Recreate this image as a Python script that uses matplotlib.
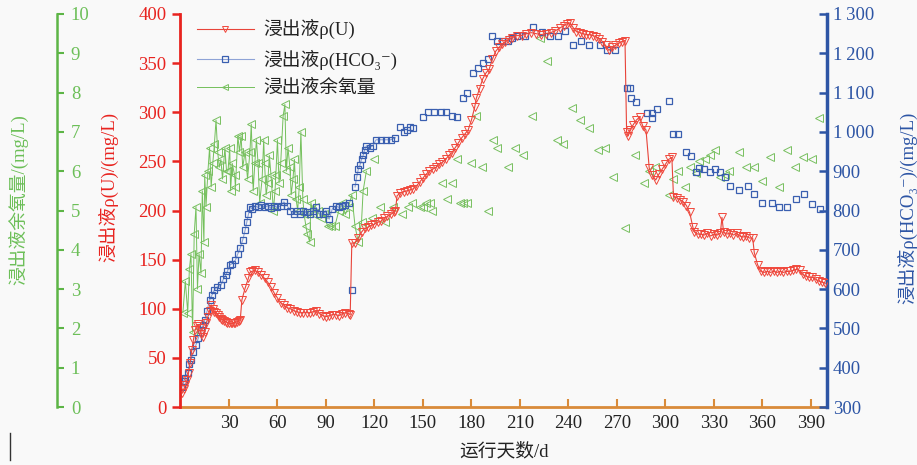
import numpy as np
import matplotlib
matplotlib.use("Agg")
import matplotlib.pyplot as plt
from matplotlib.lines import Line2D
from matplotlib.ticker import FuncFormatter

plt.rcParams['font.family'] = ['Liberation Serif', 'Noto Sans CJK SC', 'DejaVu Sans']

# ---- data ----
# U in leachate, mg/L
u_days = [1, 2, 3, 4, 5, 6, 7, 8, 9, 10, 11, 12, 13, 14, 15, 16, 17, 18, 19, 20,
          21, 22, 23, 24, 25, 26, 27, 28, 29, 30, 31, 32, 33, 34, 35, 36, 37, 38, 40, 42,
          43, 44, 46, 48, 50, 52, 54, 56, 58, 60, 62, 64, 66, 68, 70, 72, 74, 76, 78, 80,
          82, 84, 86, 88, 90, 92, 94, 96, 98, 100, 102, 104, 105, 106, 108, 110, 112, 114, 116, 118,
          120, 122, 124, 126, 128, 130, 132, 133, 134, 136, 138, 140, 142, 144, 146, 148, 150, 152, 154, 156,
          158, 160, 162, 164, 166, 168, 170, 172, 174, 176, 178, 180, 182, 183, 185, 187, 189, 191, 193, 195,
          197, 199, 201, 203, 205, 208, 211, 214, 217, 220, 223, 226, 229, 232, 235, 237, 239, 241, 243, 245,
          247, 249, 251, 253, 255, 257, 259, 261, 263, 265, 267, 269, 271, 273, 275, 276, 277, 278, 280, 282,
          284, 286, 288, 290, 292, 294, 296, 298, 300, 302, 304, 305, 307, 309, 311, 313, 315, 317, 318, 320,
          322, 324, 326, 328, 330, 332, 334, 335, 336, 338, 340, 342, 344, 346, 348, 350, 352, 354, 355, 357,
          359, 361, 363, 365, 367, 369, 371, 373, 375, 377, 379, 381, 383, 385, 387, 389, 391, 393, 395, 397,
          399]
u_vals = [14, 18, 22, 27, 35, 45, 58, 68, 78, 82, 84, 80, 74, 71, 76, 85, 92, 98, 104, 100,
          97, 96, 94, 92, 90, 89, 88, 87, 86, 85, 85, 85, 86, 86, 87, 88, 89, 109, 121, 131,
          137, 138, 139, 137, 134, 131, 127, 122, 116, 111, 106, 104, 101, 100, 98, 97, 96, 96, 96, 96,
          97, 98, 95, 93, 92, 93, 94, 94, 93, 95, 96, 95, 94, 167, 167, 172, 178, 182, 183, 185,
          186, 188, 189, 192, 194, 196, 198, 200, 215, 218, 219, 220, 221, 222, 225, 229, 233, 237, 240, 242,
          244, 247, 249, 252, 256, 259, 264, 269, 274, 278, 282, 292, 305, 314, 324, 334, 340, 344, 354, 362,
          366, 369, 372, 374, 376, 378, 378, 380, 381, 380, 379, 380, 381, 383, 386, 388, 390, 391, 386, 382,
          381, 380, 379, 379, 378, 377, 375, 372, 368, 363, 366, 368, 370, 372, 373, 280, 276, 282, 287, 292,
          295, 286, 282, 243, 236, 231, 237, 242, 247, 252, 254, 214, 213, 211, 209, 205, 198, 183, 178, 176,
          176, 175, 177, 174, 176, 175, 177, 193, 178, 176, 177, 175, 177, 174, 173, 174, 172, 172, 157, 145,
          138, 137, 138, 137, 138, 137, 138, 137, 138, 138, 139, 140, 139, 135, 133, 132, 132, 130, 128, 127,
          126]

# HCO3- in leachate, mg/L
hco3_days_a = [1, 2, 3, 4.6, 5.5, 6.5, 8, 9.6, 11, 12.7, 14, 15, 16.5, 18, 19.5, 21, 22.5, 25, 26.5, 28,
               29, 30.5, 32, 34, 35.5, 37, 38.5, 40, 41, 42, 43, 44, 46, 48, 50, 52, 54, 56, 58, 60,
               62, 64, 66, 68, 70, 72, 74, 76, 78, 80, 82, 84, 86, 88, 90, 92, 94, 96, 98, 100,
               102, 104]
hco3_vals_a = [351, 365, 375, 387, 410, 420, 440, 458, 475, 496, 508, 521, 545, 572, 585, 598, 605, 610, 625, 636,
               645, 661, 665, 674, 690, 705, 725, 750, 770, 790, 809, 805, 812, 808, 815, 808, 812, 806, 812, 808,
               812, 822, 812, 800, 790, 800, 790, 800, 795, 790, 800, 808, 790, 790, 800, 778, 805, 812, 808, 812,
               815, 820]
hco3_days_drop = [106]
hco3_vals_drop = [598]
hco3_days_b = [108, 109, 110, 111, 112, 113, 114, 115, 117, 119, 121, 124, 127, 130, 133]
hco3_vals_b = [860, 885, 905, 915, 930, 940, 955, 965, 960, 965, 980, 980, 980, 980, 985]
hco3_days_c = [136, 138.5, 140, 142, 144, 150, 153, 157, 161, 164, 168, 171, 175, 177, 181, 184, 187, 190, 193, 196,
               199, 202.5, 205, 208, 213, 218, 223.5, 228.5, 233.5, 238, 243, 248, 253, 259.5, 264, 269, 276, 278, 279, 282,
               288.5, 291.5, 292, 294.5, 302, 304.5, 307.5, 313, 316, 319, 321, 324, 327.5, 330.5, 333.5, 337, 340, 345.5, 351, 355,
               360, 366, 370, 375.5, 381, 385.5, 390.5, 395.5]
hco3_vals_c = [1013, 1000, 1005, 1013, 1010, 1038, 1051, 1050, 1051, 1051, 1040, 1038, 1086, 1099, 1150, 1163, 1175, 1186, 1244, 1231,
               1231, 1231, 1240, 1244, 1244, 1267, 1254, 1244, 1244, 1257, 1221, 1231, 1221, 1221, 1208, 1208, 1112, 1112, 1086, 1076,
               1048, 1048, 1036, 1058, 1079, 995, 995, 949, 939, 898, 908, 906, 898, 906, 898, 885, 862, 852, 862, 842,
               819, 819, 809, 809, 829, 842, 817, 804]

# residual oxygen in leachate, mg/L
o2_days_a = [1.5, 3, 4.5, 5.5, 6.5, 7.5, 8.5, 9.6, 10.5, 11.5, 12.7, 13.5, 14.5, 15, 15.8, 17, 18, 19, 20, 21,
             22, 23, 24, 25, 26, 27.5, 28.5, 29.4, 30.5, 31, 32, 33.5, 34, 35.5, 36.5, 37.5, 38.5, 40, 41.5, 43,
             43.8, 45, 46, 47, 48, 49, 50.5, 51.5, 52, 53, 54, 55, 56, 57.5, 58.5, 59, 60, 61, 62, 63.5,
             64.6, 65.5, 66.5, 67.7, 68.5, 69.6, 70.5, 71.5, 72.5, 73.5, 74.5, 75.7, 76.5, 77.6, 78.5, 80, 80.7, 82, 83, 85,
             87, 89, 91, 93, 95.5, 98, 100, 102, 104, 106, 108, 110, 112, 113, 115]
o2_vals_a = [2.4, 3.2, 2.4, 3.5, 3.9, 1.9, 4.4, 5.1, 3.0, 3.9, 3.4, 5.5, 4.2, 5.9, 5.1, 6.0, 6.6, 5.6, 6.2, 6.7,
             7.3, 6.5, 6.1, 6.3, 5.8, 6.6, 6.0, 6.0, 6.6, 5.5, 6.2, 5.9, 5.6, 6.9, 6.5, 6.9, 6.1, 6.5, 5.8, 6.5,
             7.2, 5.5, 6.2, 6.8, 6.2, 5.2, 5.8, 6.8, 6.2, 5.4, 5.7, 6.4, 5.9, 5.0, 5.5, 5.9, 6.8, 5.7, 6.2, 7.4,
             7.7, 6.0, 6.6, 6.1, 5.4, 5.8, 6.3, 5.3, 5.0, 5.6, 7.0, 5.3, 4.9, 4.6, 4.4, 4.2, 5.2, 4.9, 5.1, 5.0,
             4.8, 4.9, 4.6, 4.6, 4.6, 5.0, 5.2, 4.9, 5.1, 5.4, 4.6, 4.2, 4.7, 5.5, 6.0]
o2_days_b = [118.5, 120, 123.5, 126.5, 131.5, 137, 140.7, 143, 148, 150, 152, 154.5, 155.5, 162, 165, 168, 171, 173, 175, 177,
             180, 183, 186.5, 190, 193.5, 196, 202.5, 207, 212, 217.5, 222.5, 227, 233, 236.5, 242, 247, 253, 258, 262.5, 267.5,
             275, 281, 287, 290, 293.5, 302.5, 304.5, 307.5, 312, 315, 319, 321, 324.5, 327.5, 330.5, 333.5, 337, 339.5, 345.5, 350,
             355, 360, 365, 370, 375, 380, 385, 390.5, 395]
o2_vals_b = [4.8, 6.3, 5.1, 4.7, 5.1, 4.9, 5.1, 5.2, 5.1, 5.1, 5.2, 5.2, 5.0, 5.7, 5.3, 5.7, 6.3, 5.2, 5.2, 5.2,
             6.2, 7.4, 6.1, 5.0, 6.8, 6.6, 6.1, 6.6, 6.4, 7.4, 9.4, 8.8, 6.8, 6.7, 7.6, 7.3, 7.1, 6.55, 6.6, 5.85,
             4.55, 6.4, 5.7, 6.0, 6.1, 5.4, 5.8, 6.0, 5.6, 6.1, 5.95, 6.25, 6.3, 6.4, 6.55, 5.85, 5.9, 6.0, 6.5, 6.1,
             6.1, 5.75, 6.35, 5.6, 6.55, 6.1, 6.35, 6.3, 7.35]

x_ticks = [30, 60, 90, 120, 150, 180, 210, 240, 270, 300, 330, 360, 390]

RED = '#e8231f'
BLUE = '#2d55a5'
GREEN = '#5db546'
ORANGE = '#d98b3a'
FS = 13.5

fig = plt.figure(figsize=(9.17, 4.65), dpi=100, facecolor='#f9f9f9')
host = fig.add_axes([0.1968, 0.1247, 0.7051, 0.8452])
host.set_facecolor('#f9f9f9')
ax_b = host.twinx()
ax_r = host.twinx()

# green axis (oxygen) on host, spine pushed out to the left, labels on its right side
host.plot(o2_days_a, o2_vals_a, '-', color='#74c05c', lw=0.7, marker='<', ms=5.5,
          mfc='none', mec='#78c060', mew=0.7, label='浸出液余氧量')
host.plot(o2_days_b, o2_vals_b, 'none', marker='<', ms=5.5, mfc='none', mec='#78c060', mew=0.7)
host.set_ylim(0, 10)
host.set_yticks(range(0, 11))
host.yaxis.tick_right()
host.spines['right'].set_position(('axes', -0.191))
host.spines['right'].set_color(GREEN)
host.spines['right'].set_linewidth(1.8)
host.spines['left'].set_visible(False)
host.spines['top'].set_visible(False)
host.tick_params(axis='y', direction='out', length=5, width=1.5, colors=GREEN,
                 labelsize=FS, labelcolor='#6cbf58', pad=5)
host.set_ylabel('浸出液余氧量/(mg/L)', color='#6cbf58', fontsize=FS)
host.yaxis.set_label_coords(-0.236, 0.527)

# x axis
host.set_xlim(0, 400)
host.set_xticks(x_ticks)
host.spines['bottom'].set_color(ORANGE)
host.spines['bottom'].set_linewidth(2)
host.tick_params(axis='x', direction='in', length=6, width=1.5, color=ORANGE,
                 labelsize=FS, labelcolor='#222222', pad=6)
host.set_xlabel('运行天数/d', fontsize=FS, color='#222222')
host.xaxis.set_label_coords(0.5, -0.09)

# blue axis (HCO3-)
ax_b.plot(hco3_days_a, hco3_vals_a, '-', color='#8ea3d6', lw=0.8, marker='s', ms=4.5,
          mfc='none', mec='#3a5fb0', mew=0.9, label='浸出液ρ(HCO₃⁻)')
ax_b.plot(hco3_days_drop, hco3_vals_drop, 'none', marker='s', ms=4.5, mfc='none', mec='#3a5fb0', mew=0.9)
ax_b.plot(hco3_days_b, hco3_vals_b, '-', color='#8ea3d6', lw=0.8, marker='s', ms=4.5,
          mfc='none', mec='#3a5fb0', mew=0.9)
ax_b.plot(hco3_days_c, hco3_vals_c, 'none', marker='s', ms=4.5, mfc='none', mec='#3a5fb0', mew=0.9)
ax_b.set_ylim(300, 1300)
ax_b.set_yticks(range(300, 1301, 100))
ax_b.yaxis.set_major_formatter(FuncFormatter(
    lambda v, p: ('%d\u2009%03d' % (v // 1000, v % 1000)) if v >= 1000 else '%d' % v))
for s in ['left', 'top', 'bottom']:
    ax_b.spines[s].set_visible(False)
ax_b.spines['right'].set_color(BLUE)
ax_b.spines['right'].set_linewidth(2.5)
ax_b.tick_params(axis='y', direction='in', length=6, width=1.8, colors=BLUE,
                 labelsize=FS, pad=4)
ax_b.set_ylabel('浸出液ρ(HCO₃⁻)/(mg/L)', color=BLUE, fontsize=FS)
ax_b.yaxis.set_label_coords(1.108, 0.506)

# red axis (U) drawn on top
ax_r.plot(u_days, u_vals, '-', color='#e8443a', lw=0.8, marker='v', ms=5.5,
          mfc='none', mec='#f0483c', mew=0.7, label='浸出液ρ(U)')
ax_r.set_ylim(0, 400)
ax_r.set_yticks(range(0, 401, 50))
ax_r.yaxis.tick_left()
ax_r.yaxis.set_label_position('left')
for s in ['right', 'top', 'bottom']:
    ax_r.spines[s].set_visible(False)
ax_r.spines['left'].set_visible(True)
ax_r.spines['left'].set_color(RED)
ax_r.spines['left'].set_linewidth(2)
ax_r.tick_params(axis='y', direction='out', length=6, width=1.8, colors=RED,
                 labelsize=FS, pad=4)
ax_r.set_ylabel('浸出液ρ(U)/(mg/L)', color=RED, fontsize=FS)
ax_r.yaxis.set_label_coords(-0.0967, 0.56)

handles = [ax_r.get_lines()[0], ax_b.get_lines()[0], host.get_lines()[0]]
labels = [h.get_label() for h in handles]
leg = ax_r.legend(handles, labels, loc='upper left', bbox_to_anchor=(0.0, 1.03),
                  frameon=False, fontsize=FS, handlelength=3.0, labelspacing=0.55,
                  handletextpad=0.5, markerscale=0.9)
for t in leg.get_texts():
    t.set_color('#222222')

fig.add_artist(Line2D([0.011, 0.011], [0.011, 0.069], color='#333333', lw=1))

fig.savefig('out.png', dpi=100, facecolor=fig.get_facecolor())
